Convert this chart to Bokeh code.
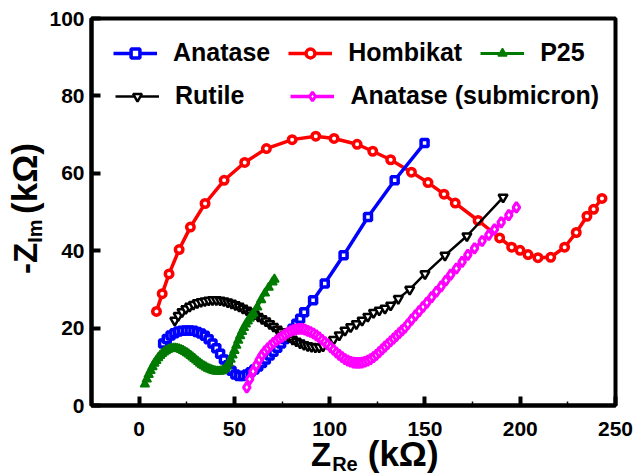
import math
from bokeh.plotting import figure
from bokeh.models import Range1d, FixedTicker, Legend, LegendItem, Div
from bokeh.layouts import column, row
from bokeh.embed import file_html
from bokeh.resources import INLINE

# ---------------- data (kOhm) ----------------
hombikat_x = [9.1, 12.1, 15.7, 21.0, 26.9, 34.6, 44.6, 55.4, 66.8, 80.3, 92.7, 102.3, 114.4, 122.6,
              132.0, 142.9, 151.6, 160.0, 165.9, 177.9, 189.2, 195.5, 199.9, 204.1, 209.3, 216.0,
              223.3, 229.4, 235.0, 238.5, 242.9]
hombikat_y = [24.3, 28.9, 34.0, 40.3, 46.1, 52.2, 58.2, 62.8, 66.4, 68.7, 69.6, 69.0, 67.5, 65.7,
              63.5, 60.3, 57.6, 54.6, 52.3, 47.8, 43.3, 40.9, 40.1, 39.0, 38.2, 38.3,
              40.9, 44.7, 48.9, 50.7, 53.5]

anatase_x = [12.6, 14.5, 16.5, 18.5, 20.5, 22.5, 24.5, 26.5, 28.5, 30.5, 32.5, 34.5, 36.5, 38.5,
             40.5, 42.5, 44.5, 46.5, 48.5, 50.5, 52.5, 54.5, 56.5, 58.5, 60.5, 62.5, 64.5, 66.5,
             68.5, 70.5, 72.5, 74.5, 76.5, 78.5, 80.5, 82.5, 84.5, 86.6, 91.3, 97.4, 107.3,
             120.1, 134.1, 149.8]
anatase_y = [16.0, 17.2, 18.1, 18.7, 19.1, 19.3, 19.4, 19.4, 19.3, 19.0, 18.6, 18.0, 17.1, 16.0,
             14.8, 13.4, 11.9, 10.4, 9.0, 8.0, 7.6, 7.6, 8.0, 8.6, 9.3, 10.1, 11.0, 11.9,
             12.9, 13.9, 14.9, 16.0, 17.2, 18.5, 19.8, 21.1, 22.4, 24.1, 27.2, 31.5, 38.8,
             48.7, 58.2, 67.8]

p25_x = [3, 4, 5, 6, 7, 8, 9, 10, 11, 12, 13, 14, 15, 16, 17, 18, 19, 20, 21, 22, 23, 24, 25,
         26, 27, 28, 29, 30, 31, 32, 33, 34, 35, 36, 37, 38, 39, 40, 41, 42, 43, 44, 45, 46,
         47, 48, 49, 50, 51, 52, 53, 54, 55, 56, 57, 58, 59, 60, 62, 64, 66, 68, 70, 71]
p25_y = [5.5, 6.8, 8.0, 9.0, 10.0, 10.9, 11.6, 12.3, 12.9, 13.4, 13.8, 14.1, 14.4, 14.6, 14.7,
         14.8, 14.8, 14.7, 14.6, 14.4, 14.2, 13.9, 13.6, 13.3, 12.9, 12.5, 12.1, 11.7, 11.3,
         10.9, 10.5, 10.2, 9.9, 9.6, 9.4, 9.2, 9.0, 8.9, 8.8, 8.8, 8.9, 9.1, 9.5, 10.1, 10.9,
         11.9, 13.0, 14.2, 15.5, 16.8, 18.0, 19.1, 20.1, 21.0, 21.8, 22.5, 23.2, 23.8, 25.4,
         27.3, 29.0, 30.5, 31.9, 32.6]

rutile_x = [18.7, 20.5, 22.5, 24.5, 26.5, 28.5, 30.5, 32.5, 34.5, 36.5, 38.5, 40.5, 42.5, 44.5,
            46.5, 48.5, 50.5, 52.5, 54.5, 56.5, 58.5, 60.5, 62.5, 64.5, 66.5, 68.5, 70.5, 72.5,
            74.5, 76.5, 78.5, 80.5, 82.5, 84.5, 86.5, 88.5, 90.5, 92.5, 94.5, 96.5, 99, 102,
            105, 108, 111, 114, 117, 120, 123, 126, 129, 132, 136, 142, 150, 160.5, 172, 191]
rutile_y = [22.0, 23.2, 24.2, 25.0, 25.6, 26.1, 26.5, 26.8, 27.0, 27.2, 27.3, 27.3, 27.2, 27.0,
            26.7, 26.4, 26.0, 25.6, 25.1, 24.6, 24.1, 23.6, 23.0, 22.4, 21.8, 21.1, 20.4, 19.7,
            19.0, 18.3, 17.7, 17.1, 16.6, 16.1, 15.7, 15.4, 15.2, 15.1, 15.1, 15.3, 16.0, 17.0,
            18.2, 19.4, 20.3, 21.1, 22.0, 23.0, 24.0, 24.6, 25.1, 25.9, 27.6, 30.0, 34.0, 38.8,
            43.8, 53.8]

submicron_x = [56.5, 58, 59.8, 61.5, 63, 64.5, 66, 67.5, 69, 70.5, 72, 73.5, 75, 76.5, 78, 79.5,
               81, 82.5, 84, 85.5, 87, 88.5, 90, 91.5, 93, 94.5, 96, 97.5, 99, 100.5, 102, 103.5,
               105, 106.5, 108, 109.5, 111, 112.5, 114, 115.5, 117, 118.5, 120, 121.5, 123,
               124.5, 126, 127.5, 129, 130.5, 132, 133.5, 135, 136.5, 138, 139.5, 141, 143, 145,
               147, 149, 151, 153.5, 156, 158.5, 161, 163.5, 166.5, 169.5, 172.5, 176, 180,
               183.5, 186.5, 190, 194, 198]
submicron_y = [4.7, 6.8, 8.8, 10.4, 11.8, 13.0, 14.0, 14.8, 15.5, 16.2, 16.8, 17.3, 17.8, 18.3,
               18.8, 19.2, 19.5, 19.7, 19.8, 19.8, 19.6, 19.3, 19.0, 18.6, 18.1, 17.6, 17.0,
               16.4, 15.8, 15.1, 14.4, 13.7, 13.1, 12.5, 12.0, 11.6, 11.3, 11.1, 11.0, 11.0,
               11.1, 11.3, 11.6, 12.0, 12.5, 13.1, 13.8, 14.5, 15.2, 15.9, 16.6, 17.3, 18.0,
               18.7, 19.4, 20.1, 21.0, 22.2, 23.3, 24.4, 25.5, 26.6, 28.0, 29.4, 30.8, 32.3,
               33.8, 35.4, 37.1, 38.9, 40.6, 42.5, 44.1, 45.5, 47.3, 49.2, 51.2]

x_ticks = [0, 50, 100, 150, 200, 250]
x_minor = [25, 75, 125, 175, 225]
y_ticks = [0, 20, 40, 60, 80, 100]

FONT = "Liberation Sans"

p = figure(width=594, height=446, x_range=Range1d(-25, 250), y_range=Range1d(0, 100),
           output_backend="svg", toolbar_location=None, margin=0,
           min_border_left=47, min_border_right=23, min_border_top=18, min_border_bottom=41)
p.grid.visible = False
p.outline_line_color = "black"
p.outline_line_width = 4
p.outline_line_alpha = 1.0
p.background_fill_color = "white"
p.border_fill_color = "white"

for ax in (p.xaxis[0], p.yaxis[0]):
    ax.axis_line_width = 4
    ax.axis_line_color = "black"
    ax.major_tick_in = 9
    ax.major_tick_out = 0
    ax.major_tick_line_width = 4
    ax.major_tick_line_color = "black"
    ax.major_label_text_font = FONT
    ax.major_label_text_font_size = "21px"
    ax.major_label_text_font_style = "bold"
    ax.major_label_text_color = "black"

p.xaxis.ticker = FixedTicker(ticks=x_ticks, minor_ticks=x_minor)
p.xaxis.minor_tick_in = 4
p.xaxis.minor_tick_out = 0
p.xaxis.minor_tick_line_width = 1.5
p.xaxis.minor_tick_line_color = "black"
p.xaxis.major_label_standoff = 16
p.yaxis.ticker = FixedTicker(ticks=y_ticks, minor_ticks=[])
p.yaxis.minor_tick_line_color = None
p.yaxis.major_label_standoff = 7


def series(x, y, color, marker, size, lw_line, lw_mark, fill):
    ln = p.line(x, y, line_color=color, line_width=lw_line)
    sc = p.scatter(x, y, marker=marker, size=size, line_color=color,
                   line_width=lw_mark, fill_color=fill)
    return [ln, sc]


r_hom = series(hombikat_x, hombikat_y, "#ff0000", "circle", 7.5, 3.5, 3.5, "white")
r_ana = series(anatase_x, anatase_y, "#0000ff", "square", 7, 3.5, 3.5, "white")
r_rut = series(rutile_x, rutile_y, "black", "inverted_triangle", 9, 2.5, 2.5, "white")
r_p25 = series(p25_x, p25_y, "#007a00", "triangle", 9, 3, 1.5, "#007a00")
r_sub = series(submicron_x, submicron_y, "#ff00ff", "diamond", 10, 3.5, 3, "white")

common = dict(orientation="horizontal", padding=0, margin=0, border_line_color=None,
              background_fill_alpha=0, glyph_width=44, glyph_height=22,
              label_text_font=FONT, label_text_font_size="25px",
              label_text_font_style="bold", label_text_color="black")

leg1 = Legend(items=[LegendItem(label="Anatase", renderers=r_ana),
                     LegendItem(label="Hombikat", renderers=r_hom),
                     LegendItem(label="P25", renderers=r_p25)],
              location=(22, 338), label_standoff=16, spacing=18, **common)
leg2 = Legend(items=[LegendItem(label="Rutile", renderers=r_rut),
                     LegendItem(label="Anatase (submicron)", renderers=r_sub)],
              location=(24, 295), label_standoff=16, spacing=46, **common)
p.add_layout(leg1)
p.add_layout(leg2)

# ---------------- axis titles with subscripts ----------------
base_style = ("white-space:nowrap; font-family:'Liberation Sans', Arial, sans-serif; "
              "font-weight:bold; font-size:33px; line-height:1; color:black;")

ytitle_html = (
    "<div style=\"position:absolute; left:7px; top:274px; transform-origin:0 0; "
    "transform:rotate(-90deg); " + base_style + "\">"
    "-Z<span style=\"font-size:20px; position:relative; top:5px;\">Im </span>"
    "<span style=\"font-size:35px;\">(kΩ)</span></div>"
)
xtitle_html = (
    "<div style=\"position:relative; top:-10px; padding-left:311px; " + base_style + "\">"
    "Z<span style=\"font-size:20px; position:relative; top:5px; margin-left:1px;\">Re</span>"
    "<span style=\"font-size:35px; margin-left:10px;\">(kΩ)</span></div>"
)

ydiv = Div(text=ytitle_html, width=44, height=446, margin=0,
           styles={"position": "relative", "overflow": "visible"})
xdiv = Div(text=xtitle_html, width=638, height=29, margin=0,
           styles={"overflow": "visible"})

layout = column(row(ydiv, p, spacing=0, margin=0), xdiv, spacing=0, margin=0)

open("out.html", "w").write(file_html(layout, INLINE))
